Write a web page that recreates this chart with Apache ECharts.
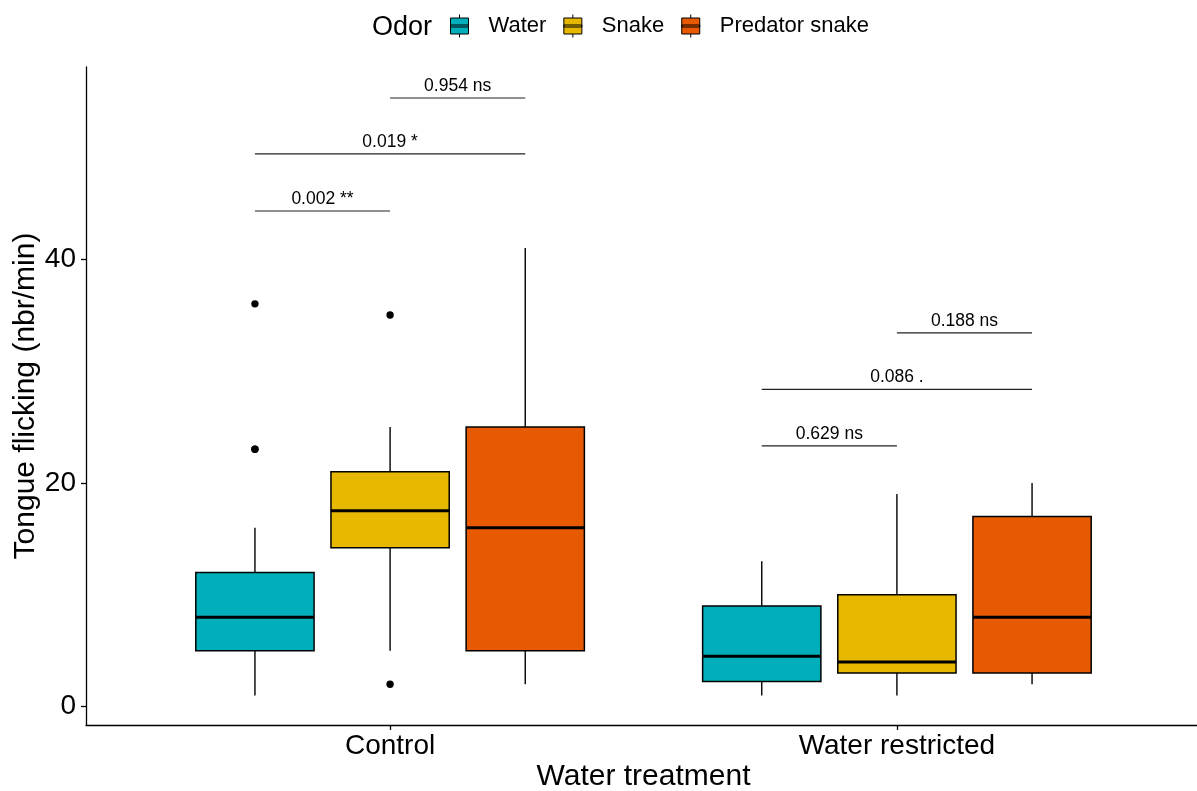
<!DOCTYPE html>
<html>
<head>
<meta charset="utf-8">
<script src="https://cdn.jsdelivr.net/npm/echarts@6/dist/echarts.min.js"></script>
<style>html,body{margin:0;padding:0;background:#fff}#c{width:1197px;height:791px}</style>
</head>
<body>
<div id="c"></div>
<script>
// ---- data ----
const categories = ['Control', 'Water restricted'];
const odors = ['Water', 'Snake', 'Predator snake'];
const yTicks = [0, 20, 40];
// box stats per category: [min, Q1, median, Q3, max]
const waterBox = [[1, 5, 8, 12, 16], [1, 2.25, 4.5, 9, 13]];
const snakeBox = [[5, 14.2, 17.5, 21, 25], [1, 3, 4, 10, 19]];
const predatorBox = [[2, 5, 16, 25, 41], [2, 3, 8, 17, 20]];
// outliers: [categoryIndex, value]
const waterOutliers = [[0, 36], [0, 23], [0, 23]];
const snakeOutliers = [[0, 35], [0, 2]];
const predatorOutliers = [];
// comparisons: [categoryIndex, groupFrom, groupTo]
const bracketGroups = [[0, 0, 1], [0, 0, 2], [0, 1, 2], [1, 0, 1], [1, 0, 2], [1, 1, 2]];
const bracketY = [44.3, 49.4, 54.4, 23.3, 28.35, 33.4];
const bracketLabels = ['0.002 **', '0.019 *', '0.954 ns', '0.629 ns', '0.086 .', '0.188 ns'];

// ---- layout / style constants ----
const colors = ['#00AFBB', '#E7B800', '#E75A02'];
const dodge = 0.8 / 3;
const boxHalf = 0.7 / 3 / 2;
const FONT = 'Liberation Sans, Arial, sans-serif';
function groupX(cat, g) { return cat + 1 + (g - 1) * dodge; }

const boxSets = [waterBox, snakeBox, predatorBox];
const outlierSets = [waterOutliers, snakeOutliers, predatorOutliers];

function boxRender(g) {
  return function (params, api) {
    const cat = api.value(0);
    const xc = groupX(cat, g);
    const mn = api.value(1), q1 = api.value(2), md = api.value(3), q3 = api.value(4), mx = api.value(5);
    const pL = api.coord([xc - boxHalf, q3]);
    const pR = api.coord([xc + boxHalf, q1]);
    const pMin = api.coord([xc, mn]);
    const pMax = api.coord([xc, mx]);
    const pMed = api.coord([xc, md]);
    const cx = pMin[0];
    return {
      type: 'group',
      children: [
        { type: 'line', shape: { x1: cx, y1: pMax[1], x2: cx, y2: pL[1] }, style: { stroke: '#000', lineWidth: 1.4 } },
        { type: 'line', shape: { x1: cx, y1: pR[1], x2: cx, y2: pMin[1] }, style: { stroke: '#000', lineWidth: 1.4 } },
        { type: 'rect', shape: { x: pL[0], y: pL[1], width: pR[0] - pL[0], height: pR[1] - pL[1] }, style: { fill: colors[g], stroke: '#000', lineWidth: 1.5 } },
        { type: 'line', shape: { x1: pL[0], y1: pMed[1], x2: pR[0], y2: pMed[1] }, style: { stroke: '#000', lineWidth: 3 } }
      ]
    };
  };
}

function outlierRender(g) {
  return function (params, api) {
    const p = api.coord([groupX(api.value(0), g), api.value(1)]);
    return { type: 'circle', shape: { cx: p[0], cy: p[1], r: 3.7 }, style: { fill: '#000' } };
  };
}

function bracketRender(params, api) {
  const cat = api.value(0);
  const p1 = api.coord([groupX(cat, api.value(1)), api.value(3)]);
  const p2 = api.coord([groupX(cat, api.value(2)), api.value(3)]);
  const label = bracketLabels[api.value(4)];
  return {
    type: 'group',
    children: [
      { type: 'line', shape: { x1: p1[0], y1: p1[1], x2: p2[0], y2: p2[1] }, style: { stroke: '#222', lineWidth: 1.2 } },
      { type: 'text', style: { text: label, x: (p1[0] + p2[0]) / 2, y: p1[1] - 3, align: 'center', verticalAlign: 'bottom', fontSize: 17.5, fontFamily: FONT, fill: '#000' } }
    ]
  };
}

const series = [];
odors.forEach(function (name, g) {
  series.push({
    name: name,
    type: 'custom',
    renderItem: boxRender(g),
    itemStyle: { color: colors[g], borderColor: '#000', borderWidth: 1 },
    encode: { x: 0, y: [1, 2, 3, 4, 5] },
    data: boxSets[g].map(function (s, cat) { return [cat].concat(s); }),
    z: 2
  });
});
odors.forEach(function (name, g) {
  series.push({
    name: name + ' outliers',
    type: 'custom',
    renderItem: outlierRender(g),
    encode: { x: 0, y: 1 },
    data: outlierSets[g],
    z: 3
  });
});
series.push({
  name: 'comparisons',
  type: 'custom',
  renderItem: bracketRender,
  encode: { x: 0, y: 3 },
  data: bracketGroups.map(function (b, i) { return [b[0], b[1], b[2], bracketY[i], i]; }),
  z: 4
});

const legendIcon = 'path://M0,3.5L18,3.5L18,19.5L0,19.5Z M9,0L9,3.5 M9,19.5L9,23 M0,10.5L18,10.5L18,12.5L0,12.5Z';

const chart = echarts.init(document.getElementById('c'), null, { renderer: 'canvas' });
chart.setOption({
  animation: false,
  backgroundColor: '#fff',
  textStyle: { fontFamily: FONT },
  title: {
    text: 'Odor', left: 367, top: 9,
    textStyle: { fontSize: 27, fontWeight: 'normal', color: '#000', fontFamily: FONT }
  },
  legend: {
    data: odors.map(function (n) { return { name: n, icon: legendIcon }; }),
    left: 445, top: 9,
    itemWidth: 18, itemHeight: 23, itemGap: 17,
    itemStyle: { borderColor: '#000', borderWidth: 1 },
    textStyle: { fontSize: 22, color: '#000', fontFamily: FONT, padding: [0, 0, 0, 15] },
    selectedMode: false
  },
  grid: { left: 86, top: 67, width: 1115, height: 658, containLabel: false, outerBoundsMode: 'none' },
  xAxis: {
    type: 'value', min: 0.4, max: 2.6,
    axisLine: { show: true, onZero: false, lineStyle: { color: '#000', width: 1.3 } },
    axisTick: { show: true, length: 5, customValues: [1, 2], lineStyle: { color: '#000', width: 1.3 } },
    axisLabel: {
      customValues: [1, 2], margin: 7, fontSize: 28, color: '#000', fontFamily: FONT,
      formatter: function (v) { return categories[Math.round(v) - 1]; }
    },
    splitLine: { show: false },
    name: 'Water treatment', nameLocation: 'middle', nameGap: 37, nameMoveOverlap: false,
    nameTextStyle: { fontSize: 30, color: '#000', fontFamily: FONT }
  },
  yAxis: {
    type: 'value', min: -1.64, max: 57.17,
    axisLine: { show: true, onZero: false, lineStyle: { color: '#000', width: 1.3 } },
    axisTick: { show: true, length: 5, customValues: yTicks, lineStyle: { color: '#000', width: 1.3 } },
    axisLabel: { customValues: yTicks, margin: 10, fontSize: 28, color: '#000', fontFamily: FONT },
    splitLine: { show: false },
    name: 'Tongue flicking (nbr/min)', nameLocation: 'middle', nameGap: 45.5, nameRotate: 90, nameMoveOverlap: false,
    nameTextStyle: { fontSize: 30, color: '#000', fontFamily: FONT }
  },
  series: series
});
</script>
</body>
</html>
